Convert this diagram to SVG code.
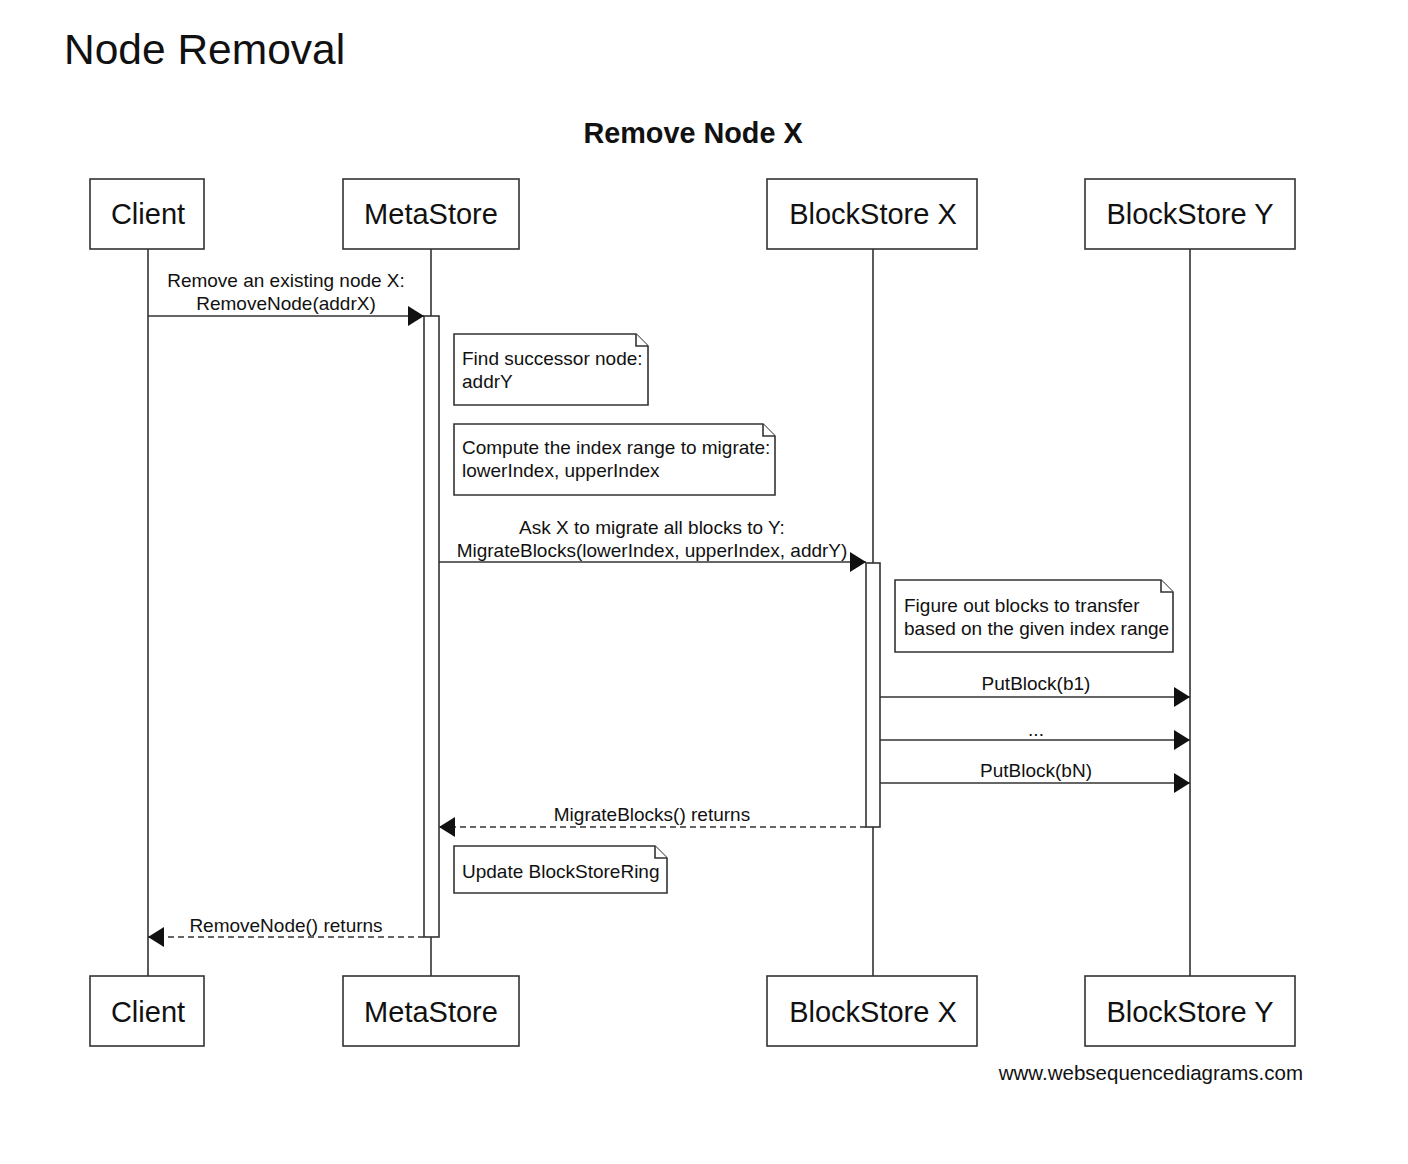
<svg xmlns="http://www.w3.org/2000/svg" width="1408" height="1164" viewBox="0 0 1408 1164">
<style>
text{font-family:"Liberation Sans",Arial,sans-serif;fill:#111}
.box{fill:#fff;stroke:#333;stroke-width:1.6}
.pl{font-size:29px;text-anchor:middle}
.life{stroke:#333;stroke-width:1.6;fill:none}
.act{fill:#fff;stroke:#333;stroke-width:1.6}
.msg{stroke:#333;stroke-width:1.6;fill:none;marker-end:url(#ah)}
.ret{stroke:#333;stroke-width:1.6;fill:none;stroke-dasharray:6 4;marker-end:url(#ah)}
.ml{font-size:19px;text-anchor:middle}
.note{fill:#fff;stroke:#333;stroke-width:1.6}
.nt{font-size:19px}
</style>
<defs>
<marker id="ah" viewBox="0 0 16 20" refX="16" refY="10" markerWidth="16" markerHeight="20" markerUnits="userSpaceOnUse" orient="auto">
<path d="M0,0 L16,10 L0,20 z" fill="#111"/>
</marker>
</defs>
<rect width="1408" height="1164" fill="#fff"/>
<text x="64" y="64" font-size="42.5">Node Removal</text>
<text x="693" y="143" font-size="28.8" font-weight="bold" text-anchor="middle">Remove Node X</text>

<g id="lifelines">
<line class="life" x1="148" y1="249" x2="148" y2="976"/>
<line class="life" x1="431" y1="249" x2="431" y2="976"/>
<line class="life" x1="873" y1="249" x2="873" y2="976"/>
<line class="life" x1="1190" y1="249" x2="1190" y2="976"/>
</g>

<g id="client">
<rect class="box" x="90" y="179" width="114" height="70"/>
<text class="pl" x="148" y="224">Client</text>
<rect class="box" x="90" y="976" width="114" height="70"/>
<text class="pl" x="148" y="1022">Client</text>
</g>
<g id="metastore">
<rect class="box" x="343" y="179" width="176" height="70"/>
<text class="pl" x="431" y="224">MetaStore</text>
<rect class="box" x="343" y="976" width="176" height="70"/>
<text class="pl" x="431" y="1022">MetaStore</text>
</g>
<g id="blockstorex">
<rect class="box" x="767" y="179" width="210" height="70"/>
<text class="pl" x="873" y="224">BlockStore X</text>
<rect class="box" x="767" y="976" width="210" height="70"/>
<text class="pl" x="873" y="1022">BlockStore X</text>
</g>
<g id="blockstorey">
<rect class="box" x="1085" y="179" width="210" height="70"/>
<text class="pl" x="1190" y="224">BlockStore Y</text>
<rect class="box" x="1085" y="976" width="210" height="70"/>
<text class="pl" x="1190" y="1022">BlockStore Y</text>
</g>

<g id="activations">
<rect class="act" x="424" y="316" width="15" height="621"/>
<rect class="act" x="866" y="563" width="14" height="264"/>
</g>

<g id="connectors">
<line class="msg" x1="148" y1="316" x2="424" y2="316"/>
<line class="msg" x1="439" y1="562" x2="866" y2="562"/>
<line class="msg" x1="880" y1="697" x2="1190" y2="697"/>
<line class="msg" x1="880" y1="740" x2="1190" y2="740"/>
<line class="msg" x1="880" y1="783" x2="1190" y2="783"/>
<line class="ret" x1="866" y1="827" x2="439" y2="827"/>
<line class="ret" x1="424" y1="937" x2="148" y2="937"/>
</g>

<g id="labels">
<text class="ml" x="286" y="287">Remove an existing node X:</text>
<text class="ml" x="286" y="310">RemoveNode(addrX)</text>
<text class="ml" x="652" y="534">Ask X to migrate all blocks to Y:</text>
<text class="ml" x="652" y="557">MigrateBlocks(lowerIndex, upperIndex, addrY)</text>
<text class="ml" x="1036" y="690">PutBlock(b1)</text>
<text class="ml" x="1036" y="736" fill="#666">...</text>
<text class="ml" x="1036" y="777">PutBlock(bN)</text>
<text class="ml" x="652" y="821">MigrateBlocks() returns</text>
<text class="ml" x="286" y="932">RemoveNode() returns</text>
</g>

<g id="note1">
<path class="note" d="M454,334 H636 L648,346 V405 H454 Z"/>
<path class="note" d="M636,334 V346 H648" fill="none"/>
<text class="nt" x="462" y="365">Find successor node:</text>
<text class="nt" x="462" y="388">addrY</text>
</g>
<g id="note2">
<path class="note" d="M454,424 H763 L775,436 V495 H454 Z"/>
<path class="note" d="M763,424 V436 H775" fill="none"/>
<text class="nt" x="462" y="454">Compute the index range to migrate:</text>
<text class="nt" x="462" y="477">lowerIndex, upperIndex</text>
</g>
<g id="note3">
<path class="note" d="M895,580 H1161 L1173,592 V652 H895 Z"/>
<path class="note" d="M1161,580 V592 H1173" fill="none"/>
<text class="nt" x="904" y="612">Figure out blocks to transfer</text>
<text class="nt" x="904" y="635">based on the given index range</text>
</g>
<g id="note4">
<path class="note" d="M454,846 H655 L667,858 V893 H454 Z"/>
<path class="note" d="M655,846 V858 H667" fill="none"/>
<text class="nt" x="462" y="878">Update BlockStoreRing</text>
</g>

<text x="1303" y="1080" font-size="20.5" text-anchor="end">www.websequencediagrams.com</text>
</svg>
